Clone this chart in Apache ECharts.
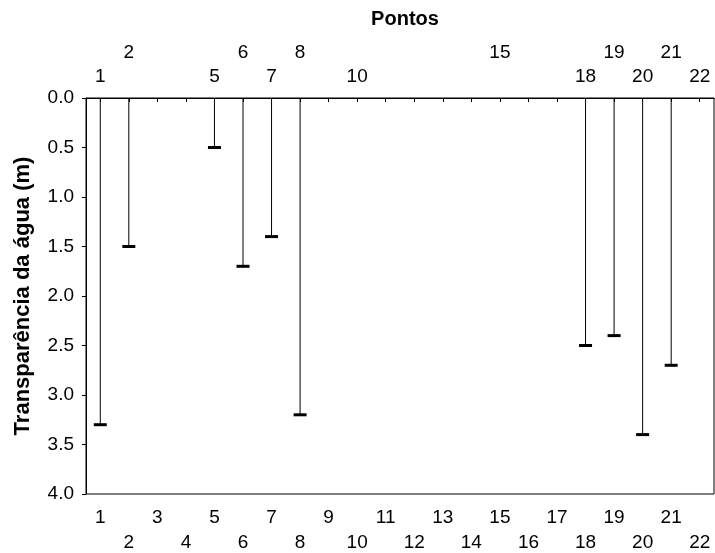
<!DOCTYPE html>
<html>
<head>
<meta charset="utf-8">
<script src="https://cdn.jsdelivr.net/npm/echarts@6/dist/echarts.min.js"></script>
<style>
  html, body { margin: 0; padding: 0; background: #fff; }
  #chart { width: 715px; height: 553px; }
</style>
</head>
<body>
<div id="chart"></div>
<script>
// Sampling points along the x axis (1..22)
const categories = ['1','2','3','4','5','6','7','8','9','10','11','12','13','14','15','16','17','18','19','20','21','22'];
// Points where water transparency was measured
const points = ['1', '2', '5', '6', '7', '8', '18', '19', '20', '21'];
// Secchi transparency depth (m) at each point
const depths = [3.3, 1.5, 0.5, 1.7, 1.4, 3.2, 2.5, 2.4, 3.4, 2.7];
// Point names shown along the top axis, staggered in two rows
const topLabels = ['1', '2', '5', '6', '7', '8', '10', '15', '18', '19', '20', '21', '22'];
// Depth axis tick values
const yTicks = [0, 0.5, 1, 1.5, 2, 2.5, 3, 3.5, 4];

const FONT = 'Arial, "Liberation Sans", sans-serif';
const LABEL_SIZE = 19;
const chart = echarts.init(document.getElementById('chart'));

const seriesData = points.map((p, i) => [p, depths[i]]);

chart.setOption({
  animation: false,
  backgroundColor: '#fff',
  textStyle: { fontFamily: FONT },
  title: {
    text: 'Pontos',
    left: 400,
    textAlign: 'center',
    top: 4,
    textStyle: { fontFamily: FONT, fontSize: 20, fontWeight: 'bold', color: '#000' }
  },
  grid: {
    left: 86, right: 1, top: 98, bottom: 59,
    containLabel: false,
    outerBoundsMode: 'none',
    show: true, borderColor: '#000', borderWidth: 1, backgroundColor: 'transparent'
  },
  xAxis: [
    {
      type: 'category',
      data: categories,
      position: 'bottom',
      boundaryGap: true,
      axisLine: { show: true, lineStyle: { color: '#000', width: 1 } },
      axisTick: { show: true, alignWithLabel: true, inside: false, length: 4, lineStyle: { color: '#000' } },
      axisLabel: {
        interval: 0,
        margin: 14,
        fontFamily: FONT,
        fontSize: LABEL_SIZE,
        color: '#000',
        formatter: v => (Number(v) % 2 === 1 ? '{a|' + v + '}' : '{b|' + v + '}'),
        rich: {
          a: { fontFamily: FONT, fontSize: LABEL_SIZE, color: '#000' },
          b: { fontFamily: FONT, fontSize: LABEL_SIZE, color: '#000', padding: [25, 0, 0, 0] }
        }
      },
      splitLine: { show: false }
    },
    {
      type: 'category',
      data: categories,
      position: 'top',
      boundaryGap: true,
      axisLine: { show: true, lineStyle: { color: '#000', width: 1 } },
      axisTick: { show: false },
      axisLabel: {
        interval: 0,
        margin: 12,
        fontFamily: FONT,
        fontSize: LABEL_SIZE,
        color: '#000',
        formatter: v => {
          const k = topLabels.indexOf(v);
          if (k < 0) return '';
          return k % 2 === 0 ? '{lo|' + v + '}' : '{hi|' + v + '}';
        },
        rich: {
          lo: { fontFamily: FONT, fontSize: LABEL_SIZE, color: '#000' },
          hi: { fontFamily: FONT, fontSize: LABEL_SIZE, color: '#000', padding: [0, 0, 24, 0] }
        }
      },
      splitLine: { show: false }
    }
  ],
  yAxis: {
    type: 'value',
    inverse: true,
    min: yTicks[0],
    max: yTicks[yTicks.length - 1],
    interval: 0.5,
    name: 'Transparência da água (m)',
    nameLocation: 'middle',
    nameGap: 52,
    nameTextStyle: { fontFamily: FONT, fontSize: 22, fontWeight: 'bold', color: '#000' },
    axisLine: { show: true, lineStyle: { color: '#000', width: 1 } },
    axisTick: { show: true, inside: false, length: 4, lineStyle: { color: '#000' } },
    axisLabel: {
      margin: 12,
      fontFamily: FONT,
      fontSize: LABEL_SIZE,
      color: '#000',
      formatter: v => v.toFixed(1)
    },
    splitLine: { show: false }
  },
  series: [{
    type: 'custom',
    xAxisIndex: 0,
    data: seriesData,
    renderItem: (params, api) => {
      const x = api.value(0);
      const v = api.value(1);
      const top = api.coord([x, 0]);
      const end = api.coord([x, v]);
      return {
        type: 'group',
        children: [
          {
            type: 'line',
            shape: { x1: top[0], y1: top[1], x2: end[0], y2: end[1] },
            style: { stroke: '#000', lineWidth: 1 }
          },
          {
            type: 'line',
            shape: { x1: end[0] - 6.5, y1: end[1], x2: end[0] + 6.5, y2: end[1] },
            style: { stroke: '#000', lineWidth: 3 }
          }
        ]
      };
    }
  }]
});
</script>
</body>
</html>
